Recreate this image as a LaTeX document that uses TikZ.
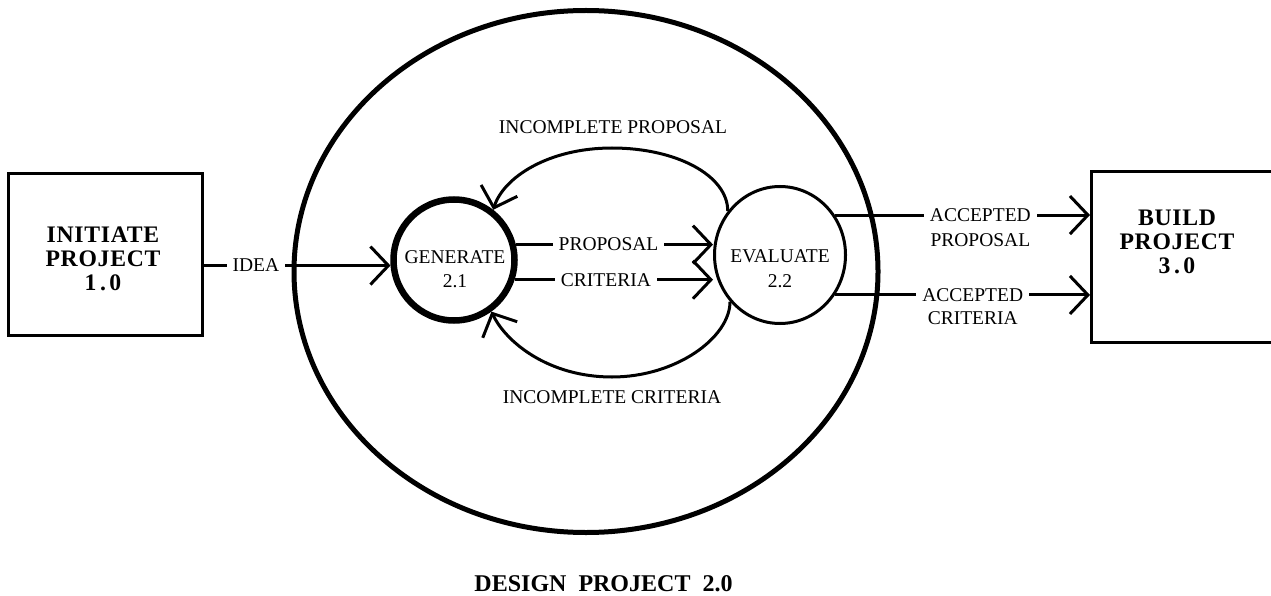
\documentclass[tikz,border=0pt]{standalone}
\usepackage{fontspec}
\setmainfont{Liberation Serif}
\newfontfamily\boxfont[LetterSpace=3]{Liberation Serif}
\usetikzlibrary{arrows.meta,shapes.geometric,calc}
\begin{document}
\begin{tikzpicture}[x=1pt,y=-1pt,
  lbl/.style={font=\fontsize{19.5}{22}\selectfont, inner sep=0pt},
  gaplbl/.style={lbl, fill=white, inner xsep=6pt, inner ysep=3pt},
  proctxt/.style={font=\fontsize{19.5}{24.5}\selectfont, align=center, inner sep=0pt},
  bx/.style={draw, line width=3pt, inner sep=0pt},
  bxtxt/.style={font={\boxfont\bfseries\fontsize{23.7}{24}\selectfont}, align=center, inner sep=0pt},
  flow/.style={line width=3pt, -{Straight Barb[length=18pt,width=38pt,line width=3pt]}}]
\useasboundingbox (0,0) rectangle (1271,596);
\fill[white] (0,0) rectangle (1271,596);
\clip (0,0) rectangle (1271,596);

% outer process
\node[draw, ellipse, line width=5pt, minimum width=584, minimum height=522, inner sep=0pt] (design) at (586,271.5) {};
\node[font={\bfseries\fontsize{24}{26}\selectfont}, inner sep=0pt] (designlbl) at (603.5,584) {DESIGN\ \ PROJECT\ \ 2.0};

% external boxes
\node[bx, minimum width=194, minimum height=161] (init) at (105,254.5) {};
\node[bxtxt] (inittxt) at (103,259) {INITIATE\\PROJECT\\1\kern3.5pt.\kern3.5pt0};
\node[bx, minimum width=220, minimum height=170, anchor=west] (build) at (1090,257) {};
\node[bxtxt] (buildtxt) at (1177,242) {BUILD\\PROJECT\\3\kern3.5pt.\kern3.5pt0};

% inner processes
\node[draw, circle, line width=6.5pt, minimum size=121, inner sep=0pt] (gen) at (454,260) {};
\node[proctxt] (gentxt) at (455,269) {GENERATE\\2.1};
\node[draw, ellipse, line width=3pt, minimum width=131, minimum height=137, inner sep=0pt] (eval) at (780,255) {};
\node[proctxt] (evaltxt) at (780,268.5) {EVALUATE\\2.2};

% flows
\draw[flow] (init.east |- gen.185) -- node[gaplbl, pos=.28] (idealbl) {IDEA} (gen.185);
\draw[flow] (gen.14) -- node[gaplbl, pos=.47] (proplbl) {PROPOSAL} (gen.14 -| eval.west);
\draw[flow] (gen.-18) -- node[gaplbl, pos=.46] (critlbl) {CRITERIA} (gen.-18 -| eval.west);

\coordinate (ptop) at (612,148);
\coordinate (pbot) at (612,377);
\draw[flow] (eval.140) .. controls +(0,-36) and +(64,0) .. (ptop) .. controls +(-64,0) and +(10,-32) .. (gen.52);
\draw[flow] (eval.223) .. controls +(0,36) and +(64,0) .. (pbot) .. controls +(-64,0) and +(14,30) .. (gen.306);
\node[lbl] (inclprop) at (613,127) {INCOMPLETE PROPOSAL};
\node[lbl] (inclcrit) at (612,397) {INCOMPLETE CRITERIA};

\draw[flow] (eval.36) -- node[gaplbl, pos=.57] (ap1) {ACCEPTED} (eval.36 -| build.west);
\node[lbl] (ap2) at ([yshift=-25pt]ap1.center) {PROPOSAL};
\draw[flow] (eval.-36) -- node[gaplbl, pos=.54] (ac1) {ACCEPTED} (eval.-36 -| build.west);
\node[lbl] (ac2) at ([yshift=-23pt]ac1.center) {CRITERIA};
\end{tikzpicture}
\end{document}
